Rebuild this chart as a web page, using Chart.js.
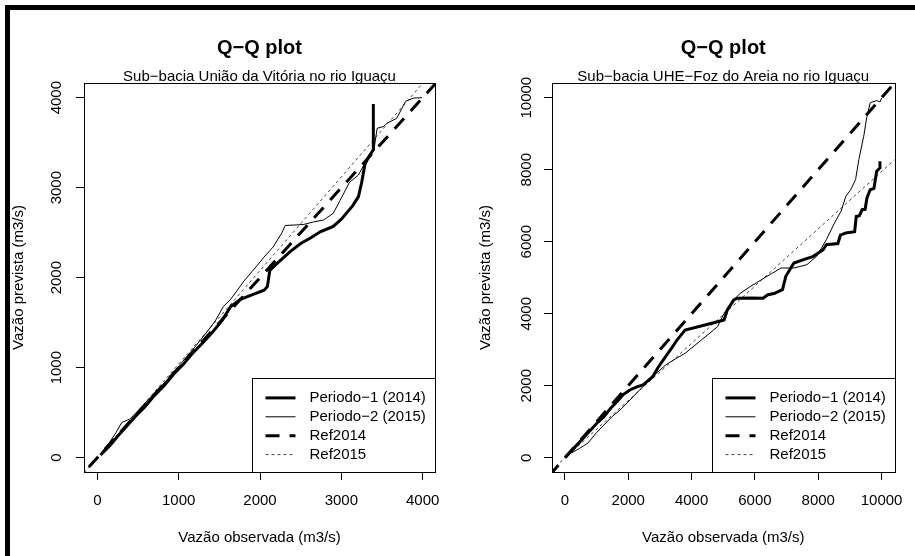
<!DOCTYPE html>
<html>
<head>
<meta charset="utf-8">
<script src="https://cdn.jsdelivr.net/npm/chart.js@4.4.1/dist/chart.umd.min.js"></script>
<style>
  html, body { margin: 0; padding: 0; background: #fff; }
  body { width: 915px; height: 556px; position: relative; overflow: hidden; }
  .frame { position: absolute; left: 5px; top: 5px; right: 0; bottom: 0; border-left: 5px solid #000; border-top: 5px solid #000; }
  canvas { position: absolute; top: 10px; }
  #uv { left: 10px; }
  #fa { left: 455px; }
</style>
</head>
<body>
<div class="frame"></div>
<canvas id="uv" width="445" height="546"></canvas>
<canvas id="fa" width="460" height="546"></canvas>
<script>
const seriesNames = ['Periodo\u22121 (2014)', 'Periodo\u22122 (2015)', 'Ref2014', 'Ref2015'];

// Sub-bacia União da Vitória
const uvTicks = [0, 1000, 2000, 3000, 4000];
const uvObs1 = [40, 150, 260, 360, 470, 580, 700, 820, 940, 1060, 1180, 1300, 1420, 1530, 1640, 1760, 1900, 2050, 2090, 2120, 2200, 2370, 2500, 2620, 2740, 2900, 3000, 3140, 3210, 3250, 3290, 3340, 3393, 3393];
const uvPrev1 = [30, 130, 250, 350, 460, 560, 690, 800, 930, 1040, 1170, 1280, 1400, 1520, 1680, 1760, 1810, 1860, 1900, 2080, 2150, 2290, 2380, 2440, 2510, 2570, 2650, 2800, 2900, 3060, 3260, 3350, 3420, 3930];
const uvObs2 = [50, 150, 230, 300, 400, 500, 620, 750, 900, 1050, 1200, 1350, 1450, 1550, 1640, 1800, 1960, 2050, 2160, 2270, 2310, 2530, 2660, 2780, 2900, 2985, 3100, 3210, 3310, 3400, 3440, 3520, 3560, 3680, 3790, 3885, 3990];
const uvPrev2 = [60, 170, 280, 390, 430, 520, 640, 760, 910, 1070, 1230, 1400, 1520, 1680, 1760, 1960, 2130, 2230, 2340, 2500, 2580, 2590, 2620, 2640, 2715, 2860, 3060, 3140, 3310, 3420, 3660, 3680, 3715, 3770, 3960, 3995, 4000];
const uvRefObs = [-500, 5000];
const uvRef2014 = [-500, 5000];
const uvRef2015 = [-520, 5200];

// Sub-bacia UHE-Foz do Areia
const faTicks = [0, 2000, 4000, 6000, 8000, 10000];
const faObs1 = [20, 300, 718, 1000, 1231, 1450, 1641, 1850, 2051, 2250, 2462, 2769, 2950, 3179, 3380, 3538, 3794, 4205, 4821, 5026, 5128, 5333, 5436, 5900, 6256, 6410, 6600, 6871, 6975, 7231, 7538, 7846, 8154, 8256, 8620, 8700, 8872, 9150, 9200, 9300, 9385, 9480, 9538, 9641, 9760, 9795, 9846, 9949, 9949];
const faPrev1 = [20, 280, 678, 950, 1139, 1380, 1556, 1760, 1881, 1960, 2019, 2250, 2520, 2806, 3060, 3269, 3547, 3639, 3778, 3825, 4103, 4381, 4428, 4436, 4428, 4528, 4560, 4670, 5039, 5408, 5500, 5594, 5778, 5917, 5950, 6180, 6242, 6280, 6700, 6720, 6889, 6900, 7214, 7444, 7480, 7678, 7956, 8047, 8233];
const faObs2 = [0, 462, 718, 1000, 1231, 1500, 1744, 2154, 2462, 2769, 3179, 3500, 3794, 4308, 4821, 5026, 5333, 5538, 5846, 6205, 6821, 7231, 7641, 7949, 8256, 8513, 8718, 8872, 9026, 9179, 9282, 9436, 9538, 9641, 9700, 9850, 9950, 10000];
const faPrev2 = [30, 261, 400, 700, 908, 1150, 1325, 1694, 1972, 2250, 2575, 2750, 2900, 3269, 3639, 4011, 4381, 4567, 4750, 4944, 5269, 5269, 5361, 5594, 6056, 6519, 6844, 7261, 7444, 7722, 8278, 8928, 9483, 9853, 9880, 9920, 9880, 9990];
const faRefObs = [-1000, 12000];
const faRef2014 = [-1000, 12000];
const faRef2015 = [-800, 9540];

const FONT = "'Liberation Sans', Arial, Helvetica, sans-serif";
Chart.defaults.font.family = FONT;
Chart.defaults.font.size = 15;
Chart.defaults.color = '#000';

const lineStyles = [
  { borderWidth: 3, borderDash: [], borderColor: '#000' },
  { borderWidth: 1, borderDash: [], borderColor: '#000' },
  { borderWidth: 3, borderDash: [14, 10], borderColor: '#000' },
  { borderWidth: 1, borderDash: [3, 3], borderColor: '#444' },
];

const pts = (xs, ys) => xs.map((x, i) => ({ x, y: ys[i] }));

// box round the plot region, like R's box()
const plotBox = {
  id: 'plotBox',
  afterDraw(chart) {
    const { ctx, chartArea: a } = chart;
    ctx.save();
    ctx.strokeStyle = '#000';
    ctx.lineWidth = 1;
    ctx.strokeRect(Math.round(a.left) + 0.5, Math.round(a.top) + 0.5, Math.round(a.width), Math.round(a.height));
    ctx.restore();
  }
};

// R-style legend in the bottom right corner
const rLegend = {
  id: 'rLegend',
  afterDraw(chart) {
    const { ctx, chartArea: a } = chart;
    const sets = chart.data.datasets;
    ctx.save();
    ctx.font = '15px ' + FONT;
    const textW = Math.max(...sets.map((d) => ctx.measureText(d.label).width));
    const w = Math.round(57 + textW + 10);
    const h = 94;
    const x = Math.round(a.right) - w + 0.5;
    const y = Math.round(a.bottom) - h + 0.5;
    ctx.fillStyle = '#fff';
    ctx.fillRect(x, y, w, h);
    ctx.strokeStyle = '#000';
    ctx.lineWidth = 1;
    ctx.strokeRect(x, y, w, h);
    sets.forEach((d, i) => {
      const ry = y + 19.4 + i * 18.9;
      ctx.beginPath();
      ctx.setLineDash(d.borderDash || []);
      ctx.lineWidth = d.borderWidth;
      ctx.strokeStyle = d.borderColor;
      ctx.moveTo(x + 13, ry);
      ctx.lineTo(x + 43, ry);
      ctx.stroke();
      ctx.setLineDash([]);
      ctx.fillStyle = '#000';
      ctx.textAlign = 'left';
      ctx.textBaseline = 'middle';
      ctx.fillText(d.label, x + 57, ry);
    });
    ctx.restore();
  }
};

function qqChart(id, opt) {
  const series = [
    pts(opt.obs1, opt.prev1),
    pts(opt.obs2, opt.prev2),
    pts(opt.refObs, opt.ref2014),
    pts(opt.refObs, opt.ref2015),
  ];
  const tickList = (list) => (scale) => { scale.ticks = list.map((value) => ({ value })); };
  return new Chart(document.getElementById(id), {
    type: 'line',
    data: {
      datasets: series.map((data, i) => ({
        label: seriesNames[i],
        data,
        ...lineStyles[i],
        pointRadius: 0,
        tension: 0,
        fill: false,
        clip: 0,
      })),
    },
    options: {
      responsive: false,
      animation: false,
      events: [],
      layout: { padding: { left: 0, top: 0, right: opt.padRight, bottom: 0 } },
      plugins: {
        legend: { display: false },
        tooltip: { enabled: false },
        title: {
          display: true,
          text: 'Q\u2212Q plot',
          fullSize: false,
          font: { size: 20, weight: 'bold' },
          padding: { top: 26.4, bottom: 0 },
        },
        subtitle: {
          display: true,
          text: opt.subtitle,
          fullSize: false,
          font: { size: 15, lineHeight: 0.8 },
          padding: { top: 10.3, bottom: 0.3 },
        },
      },
      scales: {
        x: {
          type: 'linear',
          min: opt.xMin,
          max: opt.xMax,
          afterBuildTicks: tickList(opt.ticks),
          afterFit: (s) => { s.height = 84; },
          border: { display: false },
          grid: { drawOnChartArea: false, drawTicks: true, tickLength: 8, color: '#000' },
          ticks: { padding: 11.8, maxRotation: 0, callback: (v) => String(v) },
          title: { display: true, text: 'Vaz\u00e3o observada (m3/s)', padding: { top: 0, bottom: 8.7 } },
        },
        y: {
          type: 'linear',
          min: opt.yMin,
          max: opt.yMax,
          afterBuildTicks: tickList(opt.ticks),
          afterFit: (s) => { s.width = opt.yWidth; },
          border: { display: false },
          grid: { drawOnChartArea: false, drawTicks: true, tickLength: 8, color: '#000' },
          ticks: { padding: opt.yTickPad, minRotation: 90, maxRotation: 90, crossAlign: 'center', callback: (v) => String(v) },
          title: { display: true, text: 'Vaz\u00e3o prevista (m3/s)', padding: { top: opt.yTitlePad, bottom: 0 } },
        },
      },
    },
    plugins: [plotBox, rLegend],
  });
}

qqChart('uv', {
  subtitle: 'Sub\u2212bacia Uni\u00e3o da Vit\u00f3ria no rio Igua\u00e7u',
  obs1: uvObs1, prev1: uvPrev1, obs2: uvObs2, prev2: uvPrev2,
  refObs: uvRefObs, ref2014: uvRef2014, ref2015: uvRef2015,
  ticks: uvTicks,
  xMin: -164, xMax: 4151, yMin: -159, yMax: 4163,
  yWidth: 74, padRight: 20, yTickPad: 2.8, yTitlePad: 0,
});

qqChart('fa', {
  subtitle: 'Sub\u2212bacia UHE\u2212Foz do Areia no rio Igua\u00e7u',
  obs1: faObs1, prev1: faPrev1, obs2: faObs2, prev2: faPrev2,
  refObs: faRefObs, ref2014: faRef2014, ref2015: faRef2015,
  ticks: faTicks,
  xMin: -409, xMax: 10409, yMin: -397, yMax: 10408,
  yWidth: 97, padRight: 12, yTickPad: -3.35, yTitlePad: 22,
});
</script>
</body>
</html>
